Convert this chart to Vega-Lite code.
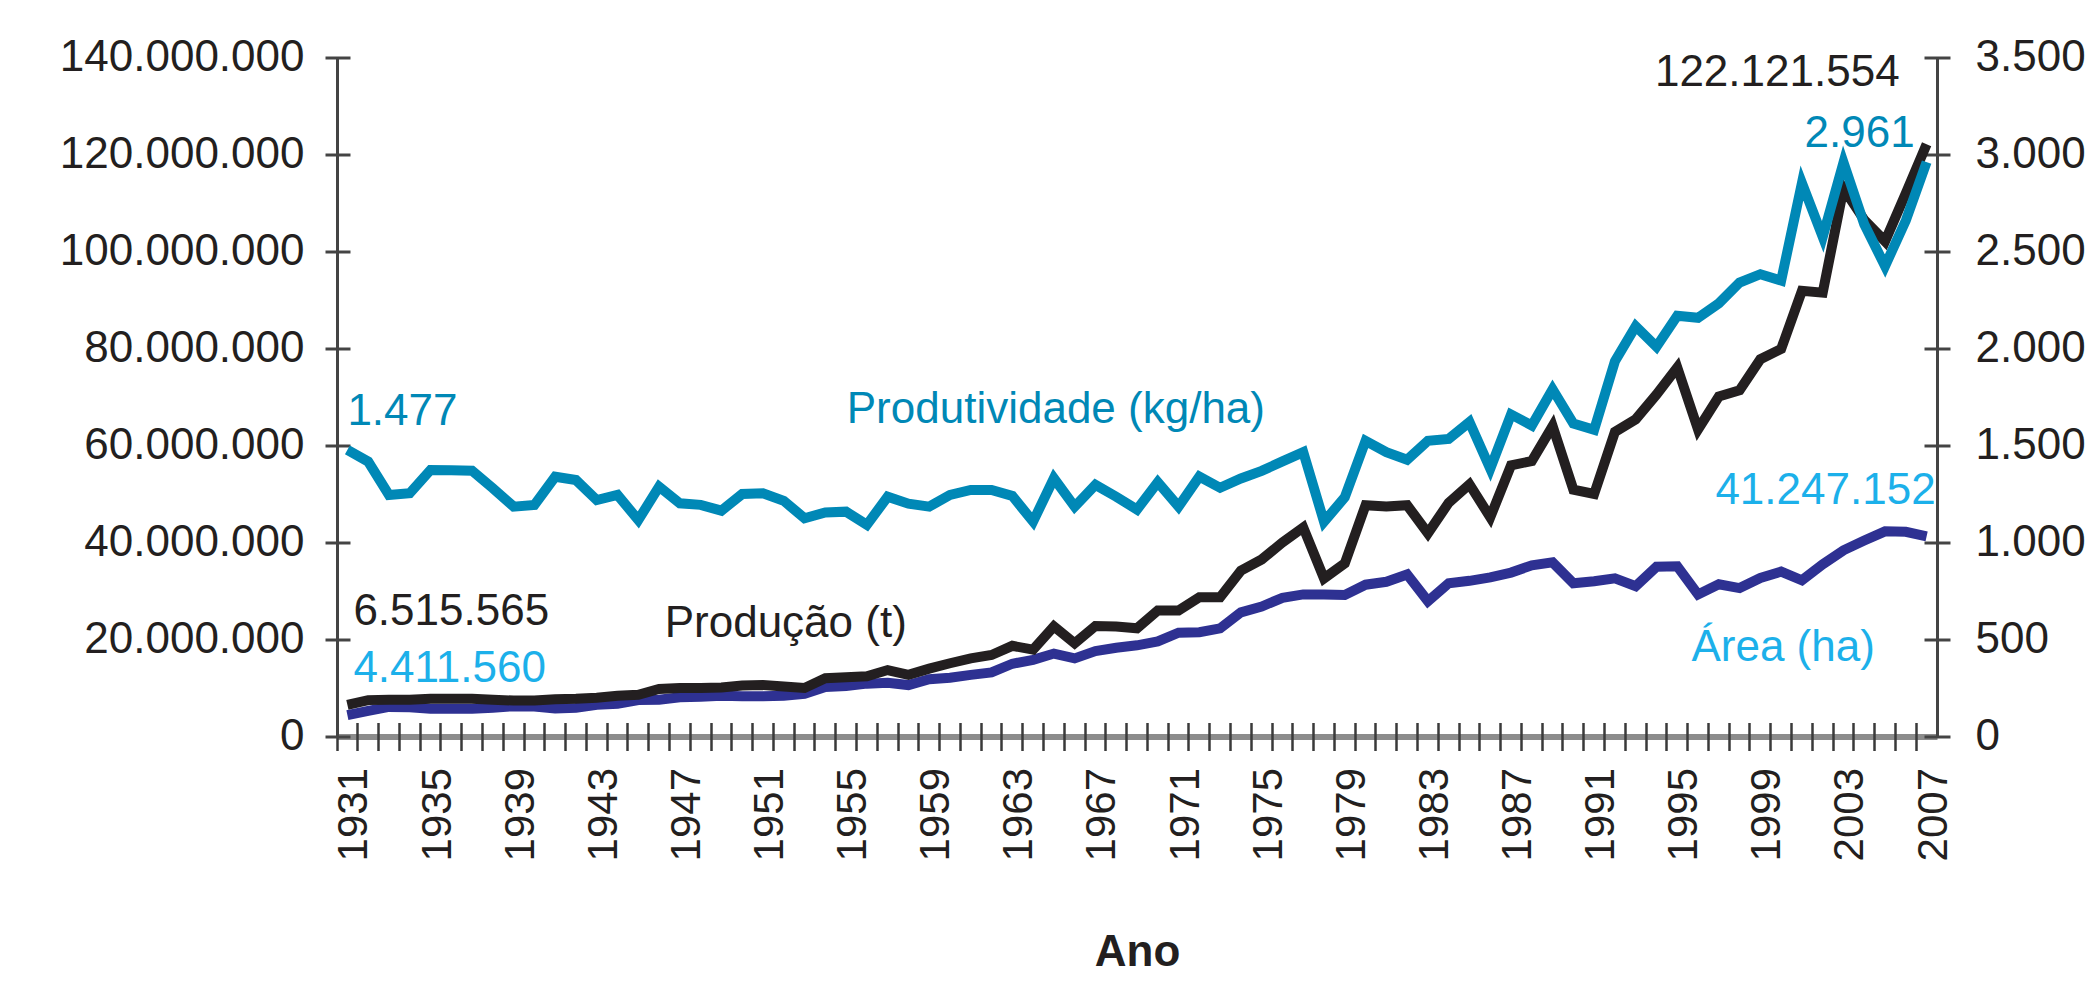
{
  "$schema": "https://vega.github.io/schema/vega-lite/v6.json",
  "width": 1600,
  "height": 679,
  "autosize": {"type": "none"},
  "padding": {"left": 337, "top": 57.5, "right": 156, "bottom": 246.5},
  "background": "white",
  "config": {
    "locale": {"number": {"decimal": ",", "thousands": ".", "grouping": [3], "currency": ["R$", ""]}},
    "font": "Liberation Sans",
    "view": {"stroke": null},
    "axis": {"grid": false, "labelFont": "Liberation Sans", "titleFont": "Liberation Sans", "labelColor": "#231f20", "titleColor": "#231f20", "labelLimit": 500},
    "text": {"font": "Liberation Sans", "fontSize": 44, "baseline": "alphabetic"},
    "line": {"strokeWidth": 10, "strokeJoin": "miter", "strokeCap": "butt"}
  },
  "datasets": {
    "serie": [
      {"year": 1931, "production": 6515565, "area": 4411560, "productivity": 1477},
      {"year": 1932, "production": 7500000, "area": 5300000, "productivity": 1417},
      {"year": 1933, "production": 7600000, "area": 6100000, "productivity": 1245},
      {"year": 1934, "production": 7600000, "area": 6050000, "productivity": 1254},
      {"year": 1935, "production": 7800000, "area": 5700000, "productivity": 1374},
      {"year": 1936, "production": 7800000, "area": 5700000, "productivity": 1372},
      {"year": 1937, "production": 7800000, "area": 5700000, "productivity": 1370},
      {"year": 1938, "production": 7600000, "area": 5950000, "productivity": 1280},
      {"year": 1939, "production": 7400000, "area": 6250000, "productivity": 1185},
      {"year": 1940, "production": 7400000, "area": 6200000, "productivity": 1194},
      {"year": 1941, "production": 7700000, "area": 5750000, "productivity": 1339},
      {"year": 1942, "production": 7800000, "area": 5900000, "productivity": 1322},
      {"year": 1943, "production": 8000000, "area": 6550000, "productivity": 1219},
      {"year": 1944, "production": 8400000, "area": 6750000, "productivity": 1245},
      {"year": 1945, "production": 8600000, "area": 7500000, "productivity": 1116},
      {"year": 1946, "production": 9800000, "area": 7600000, "productivity": 1288},
      {"year": 1947, "production": 10000000, "area": 8100000, "productivity": 1202},
      {"year": 1948, "production": 10000000, "area": 8200000, "productivity": 1194},
      {"year": 1949, "production": 10100000, "area": 8400000, "productivity": 1164},
      {"year": 1950, "production": 10500000, "area": 8300000, "productivity": 1250},
      {"year": 1951, "production": 10600000, "area": 8300000, "productivity": 1254},
      {"year": 1952, "production": 10300000, "area": 8400000, "productivity": 1215},
      {"year": 1953, "production": 10000000, "area": 8800000, "productivity": 1125},
      {"year": 1954, "production": 12000000, "area": 10200000, "productivity": 1155},
      {"year": 1955, "production": 12200000, "area": 10400000, "productivity": 1159},
      {"year": 1956, "production": 12400000, "area": 10900000, "productivity": 1091},
      {"year": 1957, "production": 13700000, "area": 11100000, "productivity": 1236},
      {"year": 1958, "production": 12700000, "area": 10600000, "productivity": 1200},
      {"year": 1959, "production": 14000000, "area": 11800000, "productivity": 1185},
      {"year": 1960, "production": 15100000, "area": 12100000, "productivity": 1245},
      {"year": 1961, "production": 16100000, "area": 12700000, "productivity": 1271},
      {"year": 1962, "production": 16800000, "area": 13200000, "productivity": 1271},
      {"year": 1963, "production": 18700000, "area": 15000000, "productivity": 1240},
      {"year": 1964, "production": 17900000, "area": 15800000, "productivity": 1108},
      {"year": 1965, "production": 22700000, "area": 17100000, "productivity": 1331},
      {"year": 1966, "production": 19200000, "area": 16100000, "productivity": 1185},
      {"year": 1967, "production": 22800000, "area": 17600000, "productivity": 1297},
      {"year": 1968, "production": 22700000, "area": 18300000, "productivity": 1236},
      {"year": 1969, "production": 22300000, "area": 18800000, "productivity": 1170},
      {"year": 1970, "production": 26000000, "area": 19600000, "productivity": 1311},
      {"year": 1971, "production": 26000000, "area": 21400000, "productivity": 1185},
      {"year": 1972, "production": 28700000, "area": 21500000, "productivity": 1340},
      {"year": 1973, "production": 28700000, "area": 22300000, "productivity": 1282},
      {"year": 1974, "production": 34200000, "area": 25600000, "productivity": 1330},
      {"year": 1975, "production": 36500000, "area": 26800000, "productivity": 1369},
      {"year": 1976, "production": 40000000, "area": 28600000, "productivity": 1418},
      {"year": 1977, "production": 43100000, "area": 29300000, "productivity": 1466},
      {"year": 1978, "production": 32600000, "area": 29300000, "productivity": 1107},
      {"year": 1979, "production": 35700000, "area": 29200000, "productivity": 1233},
      {"year": 1980, "production": 47700000, "area": 31300000, "productivity": 1524},
      {"year": 1981, "production": 47400000, "area": 31900000, "productivity": 1466},
      {"year": 1982, "production": 47700000, "area": 33400000, "productivity": 1427},
      {"year": 1983, "production": 41900000, "area": 27900000, "productivity": 1524},
      {"year": 1984, "production": 48200000, "area": 31600000, "productivity": 1534},
      {"year": 1985, "production": 52000000, "area": 32100000, "productivity": 1621},
      {"year": 1986, "production": 45200000, "area": 32800000, "productivity": 1380},
      {"year": 1987, "production": 55900000, "area": 33800000, "productivity": 1660},
      {"year": 1988, "production": 56800000, "area": 35300000, "productivity": 1603},
      {"year": 1989, "production": 64000000, "area": 35900000, "productivity": 1790},
      {"year": 1990, "production": 50900000, "area": 31600000, "productivity": 1613},
      {"year": 1991, "production": 50000000, "area": 32000000, "productivity": 1581},
      {"year": 1992, "production": 62800000, "area": 32600000, "productivity": 1934},
      {"year": 1993, "production": 65400000, "area": 31000000, "productivity": 2115},
      {"year": 1994, "production": 70500000, "area": 35000000, "productivity": 2009},
      {"year": 1995, "production": 76100000, "area": 35100000, "productivity": 2169},
      {"year": 1996, "production": 63300000, "area": 29300000, "productivity": 2158},
      {"year": 1997, "production": 70100000, "area": 31400000, "productivity": 2233},
      {"year": 1998, "production": 71400000, "area": 30600000, "productivity": 2340},
      {"year": 1999, "production": 77800000, "area": 32700000, "productivity": 2383},
      {"year": 2000, "production": 79900000, "area": 34000000, "productivity": 2350},
      {"year": 2001, "production": 91900000, "area": 32200000, "productivity": 2853},
      {"year": 2002, "production": 91500000, "area": 35500000, "productivity": 2575},
      {"year": 2003, "production": 113000000, "area": 38400000, "productivity": 2959},
      {"year": 2004, "production": 106500000, "area": 40400000, "productivity": 2640},
      {"year": 2005, "production": 102100000, "area": 42300000, "productivity": 2425},
      {"year": 2006, "production": 112000000, "area": 42200000, "productivity": 2660},
      {"year": 2007, "production": 122121554, "area": 41247152, "productivity": 2961}
    ],
    "nomesEsq": [
      {"label": "Produção (t)", "year": 1952, "value": 20580000},
      {"label": "Área (ha)", "year": 2000, "value": 15570000}
    ],
    "nomesDir": [
      {"label": "Produtividade (kg/ha)", "year": 1965, "value": 1616}
    ]
  },
  "layer": [
    {
      "resolve": {"axis": {"y": "independent"}},
      "encoding": {
        "x": {"field": "year", "type": "ordinal", "bandPosition": 0.5, "scale": {"type": "band", "paddingInner": 0, "paddingOuter": 0},
          "axis": {"orient": "bottom", "bandPosition": 0, "ticks": false, "domain": true, "domainColor": "#8c8c8c", "domainWidth": 6,
            "labelAngle": 270, "labelFontSize": 42, "labelPadding": 31, "labelOffset": 7, "labelOverlap": false,
            "labelExpr": "(datum.value - 1931) % 4 === 0 ? datum.label : ''",
            "title": "Ano", "titleFontSize": 44, "titleFontWeight": "bold", "titlePadding": 70}}
      },
      "layer": [
        {
          "data": {"name": "serie"},
          "mark": {"type": "line", "color": "#2e3192"},
          "encoding": {
            "y": {"field": "area", "type": "quantitative", "scale": {"domain": [0, 140000000], "nice": false, "zero": true},
              "axis": {"orient": "left", "values": [0, 20000000, 40000000, 60000000, 80000000, 100000000, 120000000, 140000000], "offset": -13, "tickSize": 25, "tickWidth": 3, "tickColor": "#444444", "domain": false, "labels": false, "title": null, "grid": false}}
          }
        },
        {
          "data": {"name": "serie"},
          "mark": {"type": "line", "color": "#231f20"},
          "encoding": {
            "y": {"field": "production", "type": "quantitative", "scale": {"domain": [0, 140000000], "nice": false, "zero": true},
              "axis": {"orient": "left", "values": [0, 20000000, 40000000, 60000000, 80000000, 100000000, 120000000, 140000000], "format": ",d", "ticks": false, "domainColor": "#444444", "domainWidth": 3, "labelFontSize": 44, "labelPadding": 33, "title": null}}
          }
        },
        {
          "data": {"name": "serie"},
          "transform": [{"filter": "datum.year == 1931"}],
          "mark": {"type": "text", "align": "left", "dx": 6, "dy": -80, "color": "#231f20"},
          "encoding": {
            "y": {"field": "production", "type": "quantitative", "axis": null},
            "text": {"field": "production", "type": "quantitative", "format": ",d"}
          }
        },
        {
          "data": {"name": "serie"},
          "transform": [{"filter": "datum.year == 2007"}],
          "mark": {"type": "text", "align": "right", "dx": -27, "dy": -58, "color": "#231f20"},
          "encoding": {
            "y": {"field": "production", "type": "quantitative", "axis": null},
            "text": {"field": "production", "type": "quantitative", "format": ",d"}
          }
        },
        {
          "data": {"name": "serie"},
          "transform": [{"filter": "datum.year == 1931"}],
          "mark": {"type": "text", "align": "left", "dx": 6, "dy": -33, "color": "#1cb0ea"},
          "encoding": {
            "y": {"field": "area", "type": "quantitative", "axis": null},
            "text": {"field": "area", "type": "quantitative", "format": ",d"}
          }
        },
        {
          "data": {"name": "serie"},
          "transform": [{"filter": "datum.year == 2007"}],
          "mark": {"type": "text", "align": "right", "dx": 9, "dy": -32, "color": "#1cb0ea"},
          "encoding": {
            "y": {"field": "area", "type": "quantitative", "axis": null},
            "text": {"field": "area", "type": "quantitative", "format": ",d"}
          }
        },
        {
          "data": {"name": "nomesEsq"},
          "mark": {"type": "text", "align": "center", "dx": 2},
          "encoding": {
            "y": {"field": "value", "type": "quantitative", "axis": null},
            "text": {"field": "label", "type": "nominal"},
            "color": {"field": "label", "type": "nominal", "scale": {"domain": ["Produção (t)", "Área (ha)"], "range": ["#231f20", "#1cb0ea"]}, "legend": null}
          }
        }
      ]
    },
    {
      "resolve": {"axis": {"y": "independent"}},
      "encoding": {
        "x": {"field": "year", "type": "ordinal", "bandPosition": 0.5, "scale": {"type": "band", "paddingInner": 0, "paddingOuter": 0},
          "axis": {"orient": "bottom", "bandPosition": 0, "offset": -14, "tickSize": 28, "tickWidth": 2.5, "tickColor": "#3a3a3a", "domain": false, "labels": false, "title": null, "grid": false}}
      },
      "layer": [
        {
          "data": {"name": "serie"},
          "mark": {"type": "line", "color": "#0088b6"},
          "encoding": {
            "y": {"field": "productivity", "type": "quantitative", "scale": {"domain": [0, 3500], "nice": false, "zero": true},
              "axis": {"orient": "right", "values": [0, 500, 1000, 1500, 2000, 2500, 3000, 3500], "format": ",d", "ticks": false, "domainColor": "#444444", "domainWidth": 3, "labelFontSize": 44, "labelPadding": 38, "title": null}}
          }
        },
        {
          "data": {"name": "serie"},
          "transform": [{"filter": "datum.year == 1931"}],
          "mark": {"type": "text", "align": "left", "dx": 0, "dy": -25, "color": "#0088b6"},
          "encoding": {
            "y": {"field": "productivity", "type": "quantitative", "scale": {"domain": [0, 3500], "nice": false, "zero": true},
              "axis": {"orient": "right", "values": [0, 500, 1000, 1500, 2000, 2500, 3000, 3500], "offset": -13, "tickSize": 26, "tickWidth": 3, "tickColor": "#444444", "domain": false, "labels": false, "title": null, "grid": false}},
            "text": {"field": "productivity", "type": "quantitative", "format": ",d"}
          }
        },
        {
          "data": {"name": "serie"},
          "transform": [{"filter": "datum.year == 2007"}],
          "mark": {"type": "text", "align": "right", "dx": -12, "dy": -15, "color": "#0088b6"},
          "encoding": {
            "y": {"field": "productivity", "type": "quantitative", "axis": null},
            "text": {"field": "productivity", "type": "quantitative", "format": ",d"}
          }
        },
        {
          "data": {"name": "nomesDir"},
          "mark": {"type": "text", "align": "center", "dx": 2, "color": "#0088b6"},
          "encoding": {
            "y": {"field": "value", "type": "quantitative", "axis": null},
            "text": {"field": "label", "type": "nominal"}
          }
        }
      ]
    }
  ],
  "resolve": {"scale": {"y": "independent"}, "axis": {"x": "independent", "y": "independent"}}
}
